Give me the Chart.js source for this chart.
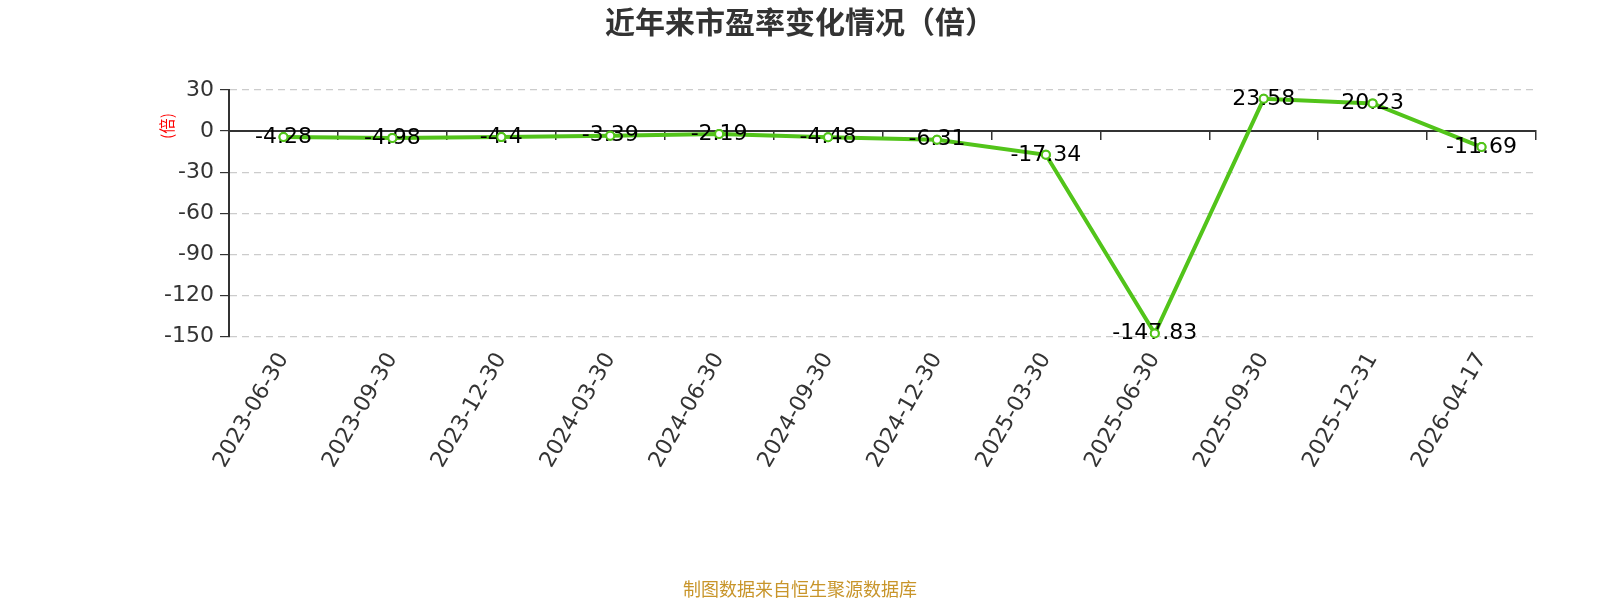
<!DOCTYPE html>
<html>
<head>
<meta charset="utf-8">
<script src="https://cdn.jsdelivr.net/npm/chart.js@4"></script>
<style>
html,body{margin:0;padding:0;background:#fff;}
#wrap{width:1600px;height:600px;position:relative;}
</style>
</head>
<body>
<div id="wrap"><canvas id="c"></canvas></div>
<script>
const categories = ['2023-06-30','2023-09-30','2023-12-30','2024-03-30','2024-06-30','2024-09-30','2024-12-30','2025-03-30','2025-06-30','2025-09-30','2025-12-31','2026-04-17'];
const peValues = [-4.28, -4.98, -4.4, -3.39, -2.19, -4.48, -6.31, -17.34, -147.83, 23.58, 20.23, -11.69];
const titleText = '近年来市盈率变化情况（倍）';
const unitText = '(倍)';
const sourceText = '制图数据来自恒生聚源数据库';
const yMin = -150, yMax = 30, yStep = 30;

const labelFont = '22px "DejaVu Sans"';

const dataLabelPlugin = {
  id: 'dataLabels',
  afterDatasetsDraw(chart) {
    const ctx = chart.ctx;
    const meta = chart.getDatasetMeta(0);
    ctx.save();
    ctx.font = labelFont;
    ctx.fillStyle = '#000';
    ctx.textAlign = 'center';
    ctx.textBaseline = 'middle';
    meta.data.forEach((pt, i) => {
      ctx.fillText(String(peValues[i]), pt.x, pt.y);
    });
    ctx.restore();
    meta.data.forEach(pt => pt.draw(ctx, chart.chartArea));
  }
};

const unitPlugin = {
  id: 'unitLabel',
  afterDraw(chart) {
    const ctx = chart.ctx;
    const y = chart.scales.y;
    ctx.save();
    ctx.font = '15.5px "Noto Sans CJK SC"';
    ctx.fillStyle = '#ff0000';
    ctx.textAlign = 'center';
    ctx.textBaseline = 'middle';
    ctx.translate(167, y.getPixelForValue(0) - 5);
    ctx.rotate(-Math.PI / 2);
    ctx.fillText(unitText, 0, 0);
    ctx.restore();
  }
};

new Chart(document.getElementById('c'), {
  type: 'line',
  data: {
    labels: categories,
    datasets: [{
      data: peValues,
      xAxisID: 'x',
      yAxisID: 'y',
      borderColor: '#52c41a',
      borderWidth: 4,
      backgroundColor: '#ffffff',
      pointBackgroundColor: '#ffffff',
      pointBorderColor: '#52c41a',
      pointBorderWidth: 2,
      pointRadius: 4,
      tension: 0,
      fill: false
    }]
  },
  options: {
    responsive: true,
    maintainAspectRatio: false,
    animation: false,
    events: [],
    layout: { padding: { left: 0, right: 0, top: 0, bottom: 0 } },
    plugins: {
      legend: { display: false },
      tooltip: { enabled: false },
      title: {
        display: true,
        text: titleText,
        color: '#333333',
        font: { family: '"Noto Sans CJK SC"', size: 30, weight: 'bold' },
        padding: { top: 4, bottom: 50 }
      },
      subtitle: {
        display: true,
        position: 'bottom',
        text: sourceText,
        color: '#c8952a',
        font: { family: '"Noto Sans CJK SC"', size: 18 },
        padding: { top: 102, bottom: 0 }
      }
    },
    scales: {
      x: {
        type: 'category',
        position: 'bottom',
        offset: true,
        grid: { display: false },
        border: { display: false },
        ticks: {
          autoSkip: false,
          minRotation: 60,
          maxRotation: 60,
          color: '#333333',
          font: { family: '"DejaVu Sans"', size: 22 },
          padding: 4
        }
      },
      x0: {
        type: 'category',
        position: { y: 0 },
        offset: true,
        grid: {
          offset: true,
          drawOnChartArea: false,
          drawTicks: true,
          tickLength: 8,
          color: '#333333',
          lineWidth: 1.5
        },
        border: { display: true, color: '#333333', width: 2 },
        ticks: { display: false }
      },
      y: {
        position: 'left',
        min: yMin,
        max: yMax,
        afterFit: (s) => { s.width = 229; },
        ticks: {
          stepSize: yStep,
          color: '#333333',
          font: { family: '"DejaVu Sans"', size: 22 },
          padding: 6
        },
        grid: {
          color: (c) => (c.tick && c.tick.value === 0) ? 'rgba(0,0,0,0)' : '#cccccc',
          tickColor: '#333333',
          tickLength: 9,
          lineWidth: 1.2,
          drawTicks: true
        },
        border: { display: true, color: '#333333', width: 2, dash: [7, 5] }
      },
      yr: {
        position: 'right',
        display: true,
        min: yMin,
        max: yMax,
        afterFit: (s) => { s.width = 64; },
        grid: { display: false },
        border: { display: false },
        ticks: { display: false }
      }
    }
  },
  plugins: [dataLabelPlugin, unitPlugin]
});
</script>
</body>
</html>
